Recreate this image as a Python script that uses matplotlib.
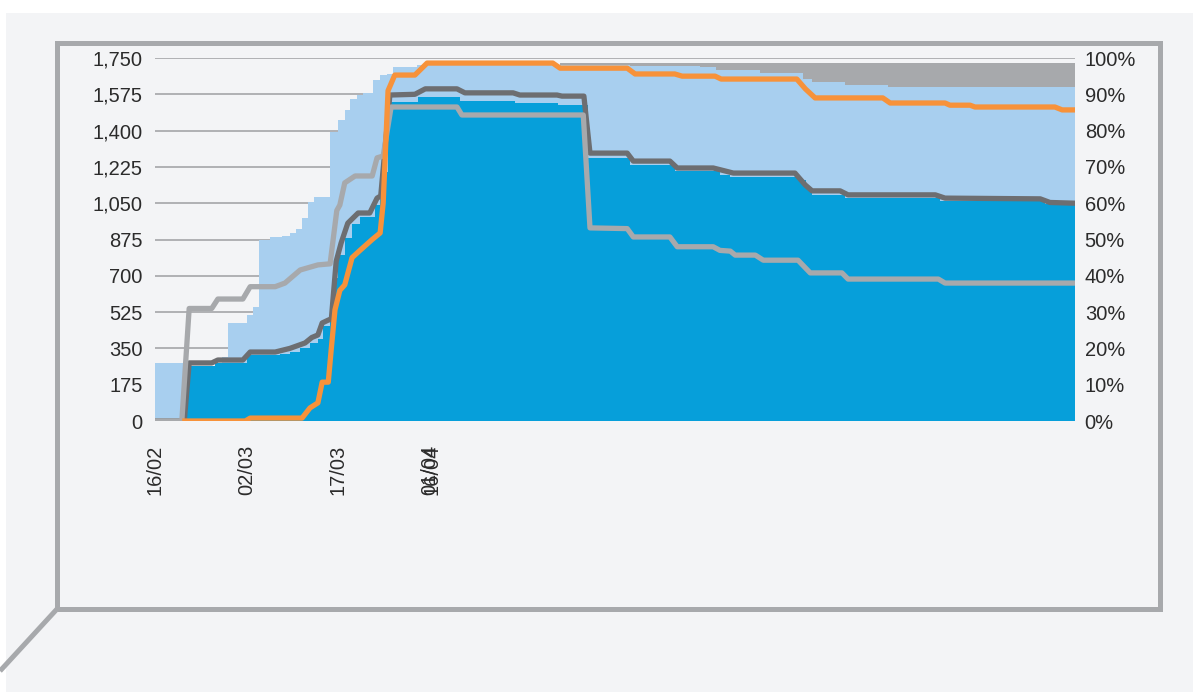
import matplotlib
matplotlib.use("Agg")
import matplotlib.pyplot as plt
from matplotlib.patches import Rectangle
from matplotlib.lines import Line2D

plt.rcParams['font.family'] = ['Liberation Sans', 'DejaVu Sans']

# x = days since 16/02 (2020)
END_DAY = 150.8

# stacked areas, read as cumulative top edges (left axis)
dark_blue_x = [0, 4.9, 9.8, 15.1, 20.5, 22.1, 23.8, 25.4, 26.7, 27.5, 28.7, 29.2, 30.0,
               31.1, 32.3, 33.6, 36.1, 36.9, 37.9, 38.2, 43.1, 50.0, 59.0, 66.1, 71.0,
               77.9, 85.2, 92.6, 94.3, 105.7, 106.7, 107.7, 113.1, 128.7, 145.9]
dark_blue_y = [0, 265, 280, 318, 325, 335, 350, 375, 395, 460, 480, 690, 800,
               880, 950, 985, 1040, 1070, 1200, 1540, 1560, 1545, 1535, 1525, 1270,
               1235, 1205, 1185, 1175, 1160, 1120, 1090, 1075, 1060, 1045]

light_blue_x = [0, 4.7, 11.0, 12.0, 15.1, 16.1, 17.0, 18.9, 20.8, 22.1, 23.1, 24.1, 25.1,
                26.1, 28.7, 30.0, 31.1, 32.0, 33.1, 34.1, 35.7, 36.9, 38.0, 39.0, 43.0,
                66.4, 77.9, 89.3, 92.0, 99.2, 106.2, 107.7, 113.1, 120.2]
light_blue_y = [280, 0, 308, 472, 511, 550, 873, 887, 892, 906, 926, 979, 1056,
                1080, 1393, 1451, 1499, 1552, 1572, 1581, 1644, 1668, 1673, 1707, 1716,
                1714, 1710, 1707, 1692, 1677, 1649, 1634, 1620, 1610]

gray_x = [0, 66.4]
gray_y = [0, 1726]

# lines (right axis, %)
dgray_x = [0, 4.8, 5.6, 9.3, 10.3, 14.4, 15.6, 19.7, 22.1, 24.6, 25.7, 26.7, 27.4, 28.4,
           28.9, 29.7, 30.5, 31.6, 33.3, 35.2, 36.4, 37.0, 38.5, 42.6, 44.3, 49.5, 50.8,
           58.7, 59.8, 65.9, 66.7, 70.3, 71.3, 77.4, 78.4, 84.4, 85.6, 91.5, 93.4, 94.8,
           104.9, 106.6, 107.7, 112.3, 113.6, 127.9, 129.5, 145.1, 146.7, 150.8]
dgray_y = [0, 0, 16, 16, 16.8, 16.8, 19, 19, 20, 21.5, 23, 23.7, 27, 27.8,
           28, 44, 49, 54.5, 57.3, 57.3, 61.4, 62, 89.8, 90, 91.5, 91.5, 90.4,
           90.4, 89.8, 89.8, 89.5, 89.5, 73.8, 73.8, 71.6, 71.6, 69.7, 69.7, 68.9, 68.3,
           68.3, 65, 63.4, 63.4, 62.3, 62.3, 61.4, 61.2, 60.2, 60]

lgray_x = [0, 4.4, 5.6, 9.3, 10.3, 14.4, 15.6, 19.7, 21.3, 23.8, 26.7, 28.7, 29.8, 30.3,
           31.1, 32.8, 35.6, 36.4, 37.4, 38.7, 49.5, 50.3, 70.2, 71.3, 77.4, 78.4, 84.4,
           85.6, 91.5, 92.6, 94.3, 95.1, 98.4, 99.7, 105.4, 107.4, 112.6, 113.6, 128.4,
           129.5, 150.8]
lgray_y = [0, 0, 31, 31, 33.6, 33.6, 37, 37, 38, 41.6, 43, 43.3, 58, 59.5,
           65.6, 67.5, 67.5, 72.5, 73, 86.5, 86.5, 84.3, 84.3, 53.2, 53, 50.7, 50.7,
           48, 48, 47, 46.8, 45.7, 45.7, 44.3, 44.3, 40.8, 40.8, 39.1, 39.1,
           38, 38]

orange_x = [4.9, 14.8, 15.6, 24.1, 25.4, 26.7, 27.4, 28.4, 28.9, 29.5, 30.3, 31.1, 32.3,
            33.6, 35.6, 36.9, 37.4, 38.2, 39.3, 42.6, 44.6, 65.2, 66.4, 77.4, 78.7, 85.2,
            86.4, 91.8, 92.8, 105.2, 106.6, 108.2, 119.3, 120.5, 129.5, 130.3, 133.6,
            134.4, 147.5, 148.7, 150.8]
orange_y = [0, 0, 0.8, 0.8, 3.6, 5, 10.7, 10.7, 20, 30.6, 36, 37.5, 45,
            47, 50, 51.8, 60, 91, 95.3, 95.3, 98.6, 98.6, 97.2, 97.2, 95.6, 95.6,
            95, 95, 94.2, 94.2, 91.5, 89, 89, 87.6, 87.6, 87, 87,
            86.5, 86.5, 85.7, 85.7]

left_ticks = list(range(0, 1751, 175))
right_ticks = list(range(0, 101, 10))
x_ticks = [0, 15, 30, 45, 45.4]
x_labels = ['16/02', '02/03', '17/03', '01/04', '16/04']

DARK_BLUE = '#069FDA'
LIGHT_BLUE = '#A8CFEF'
GRAY = '#A7A9AC'
DARK_GRAY = '#6D6E71'
ORANGE = '#F7923A'
BG = '#F3F4F6'
TXT = '#2B2B2B'

W, H = 1193, 692
fig = plt.figure(figsize=(W / 100, H / 100), dpi=100, facecolor='white')

# panel background and frame
fig.patches.append(Rectangle((6 / W, 0), 1 - 6 / W, 1 - 13 / H, transform=fig.transFigure,
                             facecolor=BG, edgecolor='none', zorder=-10))
fx0, fx1 = 57 / W, 1160 / W
fy0, fy1 = 1 - 609 / H, 1 - 43 / H
for xs, ys in [([fx0, fx1, fx1, fx0, fx0], [fy0, fy0, fy1, fy1, fy0]),
               ([fx0, 0], [fy0, 1 - 671 / H])]:
    fig.lines.append(Line2D(xs, ys, transform=fig.transFigure, color=GRAY, lw=3.6,
                            solid_joinstyle='miter', solid_capstyle='butt', zorder=-5))

ax = fig.add_axes([155 / W, 1 - 421 / H, 920 / W, 363 / H])
ax.set_facecolor('none')


def ext(xs, ys):
    return list(xs) + [END_DAY], list(ys) + [ys[-1]]


for xs, ys, col in [(gray_x, gray_y, GRAY), (light_blue_x, light_blue_y, LIGHT_BLUE),
                    (dark_blue_x, dark_blue_y, DARK_BLUE)]:
    x2, y2 = ext(xs, ys)
    ax.fill_between(x2, 0, y2, step='post', color=col, lw=0, zorder=2)

ax.set_xlim(0, END_DAY)
ax.set_ylim(0, 1750)
ax.set_yticks(left_ticks)
ax.set_yticklabels([f'{v:,}' for v in left_ticks])
ax.yaxis.grid(True, color='#9D9FA2', lw=1.1)
ax.set_axisbelow(True)
ax.set_xticks(x_ticks)
ax.set_xticklabels(x_labels, rotation=90, va='top', ha='center')
ax.tick_params(axis='y', length=0, pad=9, labelsize=14.5, labelcolor=TXT)
ax.tick_params(axis='x', length=0, pad=17, labelsize=14.5, labelcolor=TXT)
for s in ax.spines.values():
    s.set_visible(False)

ax2 = ax.twinx()
ax2.set_ylim(0, 100)
ax2.plot(dgray_x, dgray_y, color=DARK_GRAY, lw=3.8, solid_joinstyle='round', zorder=3)
ax2.plot(lgray_x, lgray_y, color=GRAY, lw=3.8, solid_joinstyle='round', zorder=4)
ax2.plot(orange_x, orange_y, color=ORANGE, lw=3.8, solid_joinstyle='round', zorder=5)
ax2.set_yticks(right_ticks)
ax2.set_yticklabels([f'{v}%' for v in right_ticks])
ax2.tick_params(axis='y', length=0, pad=7, labelsize=14.5, labelcolor=TXT)
for s in ax2.spines.values():
    s.set_visible(False)

fig.savefig('out.png', dpi=100, facecolor='white')
